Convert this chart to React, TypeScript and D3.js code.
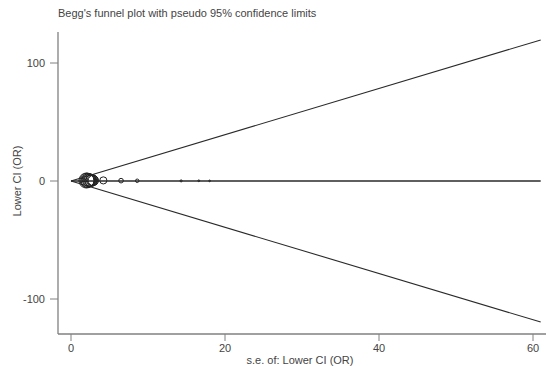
import React, { useRef, useEffect } from 'react';
import * as d3 from 'd3';

// study standard errors and lower CI values
const seValues = [2.0, 2.1, 2.2, 2.3, 2.4, 2.5, 2.6, 2.7, 2.8, 2.9, 4.2, 6.5, 8.6, 14.3, 16.6, 18.0];
const lowerCI = [0.4, 0.6, 0.3, 0.8, 0.5, 0.7, 0.2, 0.9, 0.6, 0.4, 0.5, 0.3, 0.2, 0.1, 0.2, 0.1];
const xTicks = [0, 20, 40, 60];
const yTicks = [-100, 0, 100];
const pooled = 0;
const seMax = 61;

const W = 546;
const H = 366;

const App = () => {
  const ref = useRef<SVGSVGElement | null>(null);

  useEffect(() => {
    if (!ref.current) return;
    const svg = d3.select(ref.current);
    svg.selectAll('*').remove();

    const x = d3.scaleLinear().domain([0, 60]).range([71, 533]);
    const y = d3.scaleLinear().domain([-100, 100]).range([299, 63]);
    const r = d3.scaleLinear().domain([0, 1 / 2]).range([0, 7.5]);

    const font = 'Liberation Sans, Arial, sans-serif';
    const axisCol = '#808080';
    const textCol = '#444';

    svg.append('text')
      .attr('x', 58).attr('y', 17)
      .attr('font-family', font).attr('font-size', 11).attr('fill', textCol)
      .text("Begg's funnel plot with pseudo 95% confidence limits");

    // axes
    svg.append('line')
      .attr('x1', 58).attr('x2', 58).attr('y1', 32).attr('y2', 334)
      .attr('stroke', axisCol).attr('stroke-width', 1.3);
    svg.append('line')
      .attr('x1', 58).attr('x2', W).attr('y1', 334).attr('y2', 334)
      .attr('stroke', axisCol).attr('stroke-width', 1.3);

    yTicks.forEach(t => {
      svg.append('line')
        .attr('x1', 50).attr('x2', 58).attr('y1', y(t)).attr('y2', y(t))
        .attr('stroke', axisCol);
      svg.append('text')
        .attr('x', 45).attr('y', y(t) + 4)
        .attr('text-anchor', 'end')
        .attr('font-family', font).attr('font-size', 11).attr('fill', textCol)
        .text(t < 0 ? '-' + Math.abs(t) : String(t));
    });

    xTicks.forEach(t => {
      svg.append('line')
        .attr('x1', x(t)).attr('x2', x(t)).attr('y1', 334).attr('y2', 341)
        .attr('stroke', axisCol);
      svg.append('text')
        .attr('x', x(t)).attr('y', 352)
        .attr('text-anchor', 'middle')
        .attr('font-family', font).attr('font-size', 11).attr('fill', textCol)
        .text(String(t));
    });

    svg.append('text')
      .attr('x', 300).attr('y', 364)
      .attr('text-anchor', 'middle')
      .attr('font-family', font).attr('font-size', 11).attr('fill', textCol)
      .text('s.e. of: Lower CI (OR)');

    svg.append('text')
      .attr('transform', `translate(21, ${y(0)}) rotate(-90)`)
      .attr('text-anchor', 'middle')
      .attr('font-family', font).attr('font-size', 11).attr('fill', textCol)
      .text('Lower CI (OR)');

    // funnel limits and pooled line
    const lineCol = '#2a2a2a';
    const limits: [number, number][][] = [
      [[0, pooled], [seMax, pooled + 1.96 * seMax]],
      [[0, pooled], [seMax, pooled - 1.96 * seMax]],
      [[0, pooled], [seMax, pooled]],
    ];
    const line = d3.line<[number, number]>().x(d => x(d[0])).y(d => y(d[1]));
    limits.forEach((l, i) => {
      svg.append('path')
        .attr('d', line(l))
        .attr('fill', 'none')
        .attr('stroke', lineCol)
        .attr('stroke-width', i === 2 ? 1.6 : 1.1);
    });

    // studies
    svg.append('g')
      .selectAll('circle')
      .data(seValues.map((s, i) => ({ se: s, v: lowerCI[i] })))
      .enter()
      .append('circle')
      .attr('cx', d => x(d.se))
      .attr('cy', d => y(d.v))
      .attr('r', d => r(1 / d.se))
      .attr('fill', 'none')
      .attr('stroke', '#222')
      .attr('stroke-width', 1);
  }, []);

  return <svg ref={ref} width={W} height={H} style={{ display: 'block', position: 'absolute', left: 0, top: 0, background: '#fff' }} />;
};

export default App;
